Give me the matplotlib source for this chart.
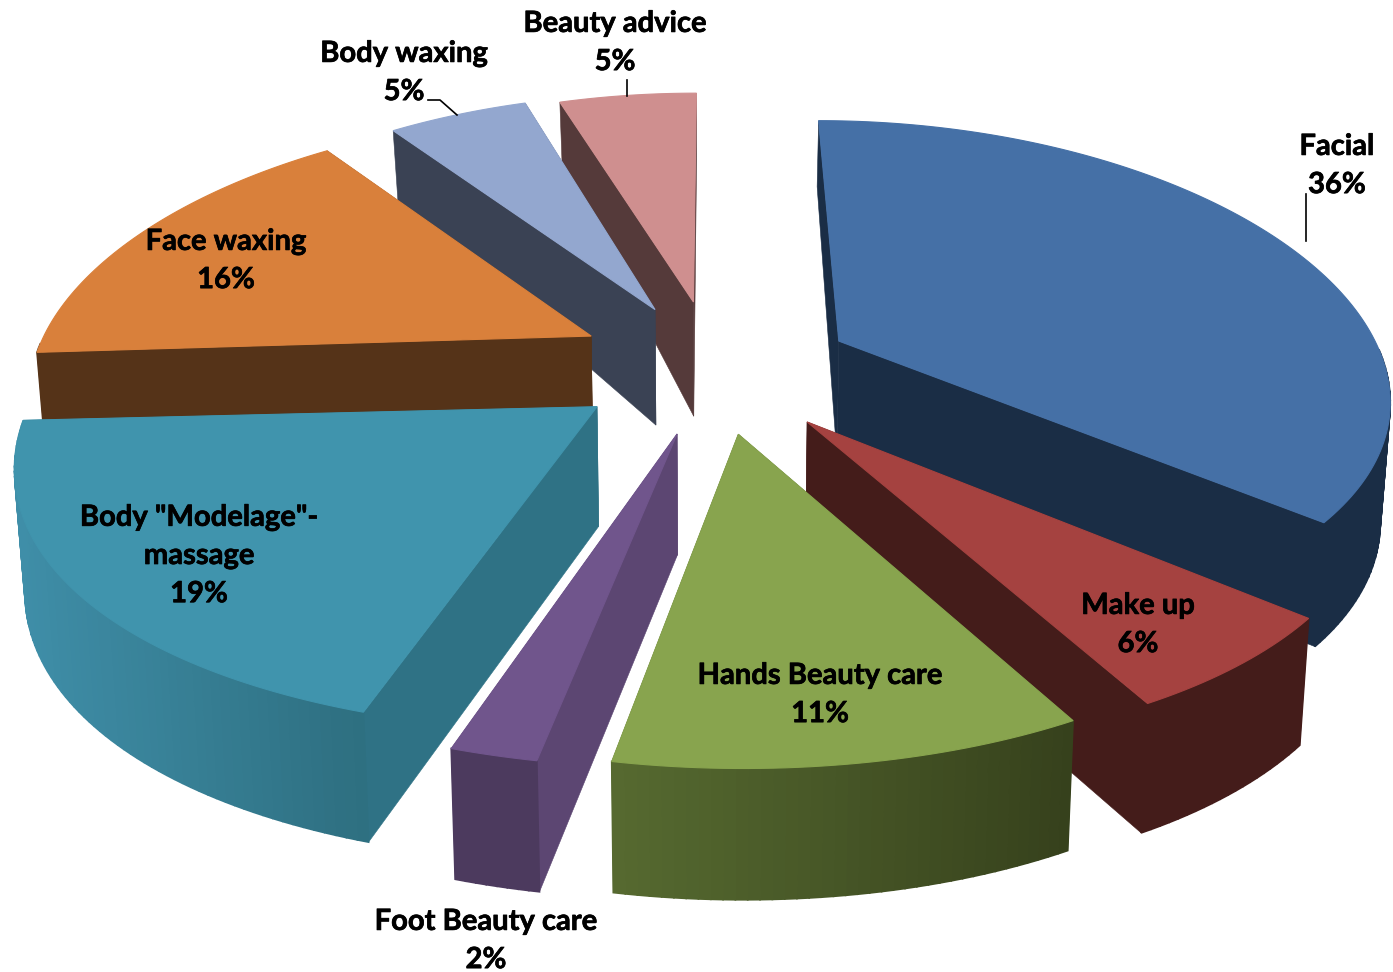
import numpy as np
import matplotlib
matplotlib.use("Agg")
import matplotlib.pyplot as plt
import matplotlib.patheffects as pe
from matplotlib.patches import Polygon
from matplotlib.colors import to_rgb

categories = ["Facial", "Make up", "Hands Beauty care", "Foot Beauty care",
              'Body "Modelage"-\nmassage', "Face waxing", "Body waxing", "Beauty advice"]
values = [36, 6, 11, 2, 19, 16, 5, 5]

top_colors = ["#4570a6", "#a54240", "#88a44e", "#70558c", "#4094ad", "#d9803b", "#93a7cf", "#cf8f8f"]
cut_colors = ["#1a2d45", "#441c1a", "#38431c", "#5c4672", "#2f7285", "#553318", "#3a4254", "#553a3a"]
rim_left = ["#1a2d45", "#441c1a", "#566a30", "#4c3a5e", "#3f8ea8", "#553318", "#3a4254", "#553a3a"]
rim_right = ["#1a2d45", "#441c1a", "#36411c", "#4c3a5e", "#2e6f80", "#553318", "#3a4254", "#553a3a"]
draw_order = [7, 6, 5, 0, 4, 1, 3, 2]
label_xy = [(1337, 166), (1138, 625), (820, 695), (486, 941), (199, 556), (226, 261), (404, 73), (615, 43)]
slice_nudge = [(8, -1), (6, 3), (4, 1), (1, 2), (0, -6), (-6, -8), (-1, -7), (0, -9)]
apex_nudge = [(2, -2), (2, 0), (0, 0), (-3, 0), (-10, 4), (0, 0), (0, 0), (0, 0)]
slice_scale_x = [0.99, 0.97, 0.975, 1.0, 1.01, 1.005, 0.985, 0.97]
slice_scale_y = [1.0, 1.0, 1.0, 1.0, 1.01, 1.005, 1.0, 0.97]

CX, CY, RX, RY, PX, PY, EXPLODE = 713, 370, 555, 263, 0.19, 0.15, 0.235


def project(X, Y):
    X, Y = np.asarray(X, float), np.asarray(Y, float)
    return CX + RX * X / (1 - PX * Y), CY + RY * Y / (1 - PY * Y)


def lower(X, Y):
    sx, sy = project(X, Y)
    depth = np.interp(Y, [-1.3, -0.2, 1.3], [55, 116, 132])
    return CX + (sx - CX) * 0.985, sy + depth


fig = plt.figure(figsize=(13.93, 9.72), dpi=100)
ax = fig.add_axes([0, 0, 1, 1])
ax.set_xlim(0, 1393)
ax.set_ylim(972, 0)
ax.axis("off")


def poly(pts, color, lw=0.4):
    ax.add_patch(Polygon(pts, closed=True, facecolor=color, edgecolor=color, linewidth=lw))


fractions = np.array(values) / sum(values) * 2 * np.pi
starts = np.concatenate([[0], np.cumsum(fractions)[:-1]])

for i in draw_order:
    a0, a1 = starts[i], starts[i] + fractions[i]
    mid = (a0 + a1) / 2
    ox, oy = EXPLODE * np.sin(mid), -EXPLODE * np.cos(mid)
    theta = np.linspace(a0, a1, max(int(np.degrees(a1 - a0)), 8) + 1)
    X = ox + slice_scale_x[i] * np.sin(theta)
    Y = oy - slice_scale_y[i] * np.cos(theta)
    nx, ny = slice_nudge[i]
    px, py = apex_nudge[i]
    tx, ty = project(X, Y)
    bx, by = lower(X, Y)
    ax0, ay0 = project(ox, oy)
    bx0, by0 = lower(ox, oy)
    tx, bx, ax0, bx0 = tx + nx, bx + nx, ax0 + nx + px, bx0 + nx + px
    ty, by, ay0, by0 = ty + ny, by + ny, ay0 + ny + py, by0 + ny + py
    # radial cut faces
    for k in (0, -1):
        poly([(ax0, ay0), (tx[k], ty[k]), (bx[k], by[k]), (bx0, by0)], cut_colors[i])
    # outer rim, shaded left to right; only the part turned toward the viewer
    cl, cr = np.array(to_rgb(rim_left[i])), np.array(to_rgb(rim_right[i]))
    lo, hi = tx.min(), tx.max()
    for k in range(len(theta) - 1):
        if np.cos((theta[k] + theta[k + 1]) / 2) > -0.03:
            continue
        t = ((tx[k] + tx[k + 1]) / 2 - lo) / max(hi - lo, 1)
        poly([(tx[k], ty[k]), (tx[k + 1], ty[k + 1]), (bx[k + 1], by[k + 1]), (bx[k], by[k])],
             tuple(cl + (cr - cl) * t), lw=1.2)
    # top face
    poly([(ax0, ay0)] + list(zip(tx, ty)), top_colors[i], lw=0.8)

# leader lines
ax.plot([428, 440, 457], [100, 100, 115], color="black", lw=1.2)
ax.plot([627, 627], [80, 96], color="black", lw=1.2)
ax.plot([1306, 1306], [194, 241], color="black", lw=1.2)

for name, val, (x, y) in zip(categories, values, label_xy):
    ax.text(x, y, f"{name}\n{val}%", ha="center", va="center", family="Lato",
            fontweight="bold", fontsize=21, linespacing=1.58, color="black",
            path_effects=[pe.withStroke(linewidth=0.5, foreground="black")])

fig.savefig("out.png", dpi=100)
